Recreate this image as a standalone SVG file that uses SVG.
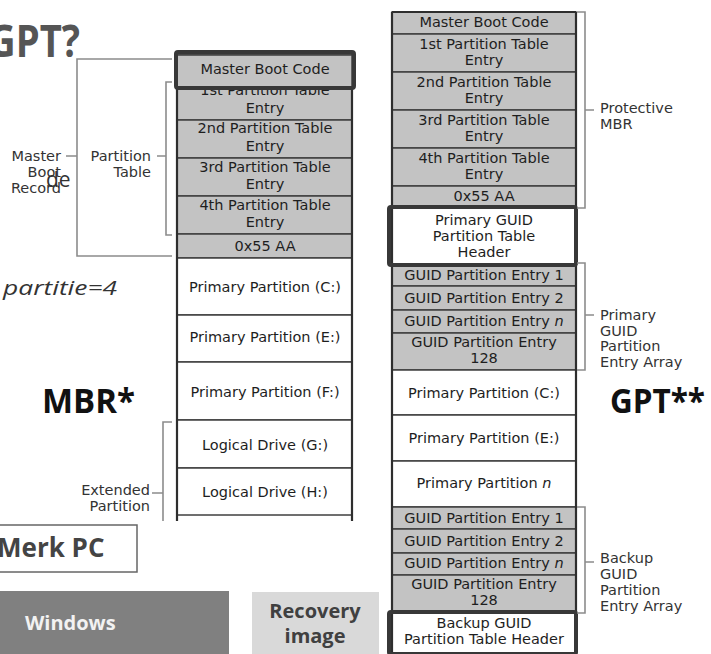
<svg xmlns="http://www.w3.org/2000/svg" width="711" height="654" viewBox="0 0 711 654">
<style>
.g{fill:#c3c3c3;stroke:#3f3f3f;stroke-width:1.5}
.w{fill:#fff;stroke:#3f3f3f;stroke-width:1.5}
.hl{fill:none;stroke:#383838;stroke-width:4}
.col{fill:none;stroke:#2e2e2e;stroke-width:2.2}
.t{font-family:"DejaVu Sans",Verdana,sans-serif;font-size:14.5px;fill:#1e1e1e;text-anchor:middle}
.l{font-family:"DejaVu Sans",Verdana,sans-serif;font-size:14.5px;fill:#333}
.e{text-anchor:end}
.br{fill:none;stroke:#8c8c8c;stroke-width:1.6}
.big{font-family:"Open Sans","Liberation Sans",sans-serif;font-weight:bold}
</style>
<rect width="711" height="654" fill="#fff"/>

<g id="titles">
<text class="big" x="-12" y="57" font-size="45" fill="#555" textLength="92" lengthAdjust="spacingAndGlyphs">GPT?</text>
<text x="3" y="295" font-family="'Open Sans','Liberation Sans',sans-serif" font-style="italic" font-size="20" fill="#333" textLength="114" lengthAdjust="spacingAndGlyphs">partitie=4</text>
<text class="big" x="42" y="413" font-size="34" fill="#111" textLength="93" lengthAdjust="spacingAndGlyphs">MBR*</text>
<text class="big" x="610" y="413" font-size="34" fill="#111" textLength="95" lengthAdjust="spacingAndGlyphs">GPT**</text>
</g>

<g id="mbr-column">
<rect class="g" x="177" y="54" width="175" height="33"/>
<rect class="g" x="177" y="87" width="175" height="33"/>
<rect class="g" x="177" y="120" width="175" height="38"/>
<rect class="g" x="177" y="158" width="175" height="38"/>
<rect class="g" x="177" y="196" width="175" height="38"/>
<rect class="g" x="177" y="234" width="175" height="24"/>
<rect class="w" x="177" y="258" width="175" height="57"/>
<rect class="w" x="177" y="315" width="175" height="47"/>
<rect class="w" x="177" y="362" width="175" height="58"/>
<rect class="w" x="177" y="420" width="175" height="48" stroke-width="2.5"/>
<rect class="w" x="177" y="468" width="175" height="47" stroke-width="2.5"/>
<path class="col" d="M177,54V521M352,54V521"/>
<text class="t" x="265" y="95">1st Partition Table</text>
<text class="t" x="265" y="113">Entry</text>
<text class="t" x="265" y="133">2nd Partition Table</text>
<text class="t" x="265" y="151">Entry</text>
<text class="t" x="265" y="172">3rd Partition Table</text>
<text class="t" x="265" y="189">Entry</text>
<text class="t" x="265" y="210">4th Partition Table</text>
<text class="t" x="265" y="227">Entry</text>
<text class="t" x="265" y="251">0x55 AA</text>
<text class="t" x="265" y="292">Primary Partition (C:)</text>
<text class="t" x="265" y="342">Primary Partition (E:)</text>
<text class="t" x="265" y="397">Primary Partition (F:)</text>
<text class="t" x="265" y="450">Logical Drive (G:)</text>
<text class="t" x="265" y="497">Logical Drive (H:)</text>
<rect class="g" x="177" y="55" width="175" height="32" stroke="none"/>
<text class="t" x="265" y="74">Master Boot Code</text>
<rect class="hl" x="176" y="52" width="178" height="36" rx="2"/>
</g>

<g id="gpt-column">
<rect class="g" x="392" y="12" width="184" height="22"/>
<rect class="g" x="392" y="34" width="184" height="38"/>
<rect class="g" x="392" y="72" width="184" height="38"/>
<rect class="g" x="392" y="110" width="184" height="38"/>
<rect class="g" x="392" y="148" width="184" height="38"/>
<rect class="g" x="392" y="186" width="184" height="22"/>
<rect class="w" x="392" y="208" width="184" height="57"/>
<rect class="g" x="392" y="265" width="184" height="21"/>
<rect class="g" x="392" y="286" width="184" height="24"/>
<rect class="g" x="392" y="310" width="184" height="23"/>
<rect class="g" x="392" y="333" width="184" height="37"/>
<rect class="w" x="392" y="370" width="184" height="45"/>
<rect class="w" x="392" y="415" width="184" height="46"/>
<rect class="w" x="392" y="461" width="184" height="46"/>
<rect class="g" x="392" y="507" width="184" height="22"/>
<rect class="g" x="392" y="529" width="184" height="24"/>
<rect class="g" x="392" y="553" width="184" height="22"/>
<rect class="g" x="392" y="575" width="184" height="37"/>
<rect class="w" x="392" y="612" width="184" height="42"/>
<path class="col" d="M392,12V654M576,12V654M392,12H576"/>
<text class="t" x="484" y="27">Master Boot Code</text>
<text class="t" x="484" y="49">1st Partition Table</text>
<text class="t" x="484" y="65">Entry</text>
<text class="t" x="484" y="87">2nd Partition Table</text>
<text class="t" x="484" y="103">Entry</text>
<text class="t" x="484" y="125">3rd Partition Table</text>
<text class="t" x="484" y="141">Entry</text>
<text class="t" x="484" y="163">4th Partition Table</text>
<text class="t" x="484" y="179">Entry</text>
<text class="t" x="484" y="201">0x55 AA</text>
<text class="t" x="484" y="225">Primary GUID</text>
<text class="t" x="484" y="241">Partition Table</text>
<text class="t" x="484" y="257">Header</text>
<text class="t" x="484" y="280">GUID Partition Entry 1</text>
<text class="t" x="484" y="303">GUID Partition Entry 2</text>
<text class="t" x="484" y="326">GUID Partition Entry <tspan font-style="italic">n</tspan></text>
<text class="t" x="484" y="347">GUID Partition Entry</text>
<text class="t" x="484" y="363">128</text>
<text class="t" x="484" y="398">Primary Partition (C:)</text>
<text class="t" x="484" y="443">Primary Partition (E:)</text>
<text class="t" x="484" y="488">Primary Partition <tspan font-style="italic">n</tspan></text>
<text class="t" x="484" y="523">GUID Partition Entry 1</text>
<text class="t" x="484" y="546">GUID Partition Entry 2</text>
<text class="t" x="484" y="568">GUID Partition Entry <tspan font-style="italic">n</tspan></text>
<text class="t" x="484" y="589">GUID Partition Entry</text>
<text class="t" x="484" y="605">128</text>
<text class="t" x="484" y="628">Backup GUID</text>
<text class="t" x="484" y="644">Partition Table Header</text>
<rect class="hl" x="389" y="207" width="187" height="58" rx="2"/>
<rect class="hl" x="389" y="612" width="187" height="42" rx="2"/>
</g>

<g id="connectors">
<path class="br" d="M172,59H77V256H172M77,156H66"/>
<path class="br" d="M172,82H166V235H172M166,156H157"/>
<path class="br" d="M172,422H163V521M163,493H152"/>
<path class="br" d="M577,12H585V208H577M585,110H594"/>
<path class="br" d="M577,263H585V370H577M585,315H594"/>
<path class="br" d="M577,507H585V613H577M585,562H594"/>
</g>

<g id="labels">
<text class="l e" x="61" y="161">Master</text>
<text class="l e" x="61" y="177">Boot</text>
<text class="l e" x="61" y="193">Record</text>
<text x="46" y="187" font-family="'Open Sans','Liberation Sans',sans-serif" font-size="21" fill="#333">de</text>
<text class="l e" x="151" y="161">Partition</text>
<text class="l e" x="151" y="177">Table</text>
<text class="l e" x="150" y="495">Extended</text>
<text class="l e" x="150" y="511">Partition</text>
<text class="l" x="600" y="113">Protective</text>
<text class="l" x="600" y="129">MBR</text>
<text class="l" x="600" y="320">Primary</text>
<text class="l" x="600" y="336">GUID</text>
<text class="l" x="600" y="351">Partition</text>
<text class="l" x="600" y="367">Entry Array</text>
<text class="l" x="600" y="563">Backup</text>
<text class="l" x="600" y="579">GUID</text>
<text class="l" x="600" y="595">Partition</text>
<text class="l" x="600" y="611">Entry Array</text>
</g>

<g id="merk-pc">
<rect x="-5" y="525" width="142" height="47" fill="#fff" stroke="#666" stroke-width="1.5"/>
<text class="big" x="-3" y="557" font-size="26" fill="#444">Merk PC</text>
</g>
<g id="windows">
<rect x="0" y="591" width="229" height="63" fill="#808080"/>
<text class="big" x="25" y="630" font-size="20" fill="#f2f2f2">Windows</text>
</g>
<g id="recovery">
<rect x="252" y="592" width="127" height="62" fill="#d9d9d9"/>
<text class="big" x="315" y="618" font-size="20" fill="#404040" text-anchor="middle">Recovery</text>
<text class="big" x="315" y="643" font-size="20" fill="#404040" text-anchor="middle">image</text>
</g>
</svg>
